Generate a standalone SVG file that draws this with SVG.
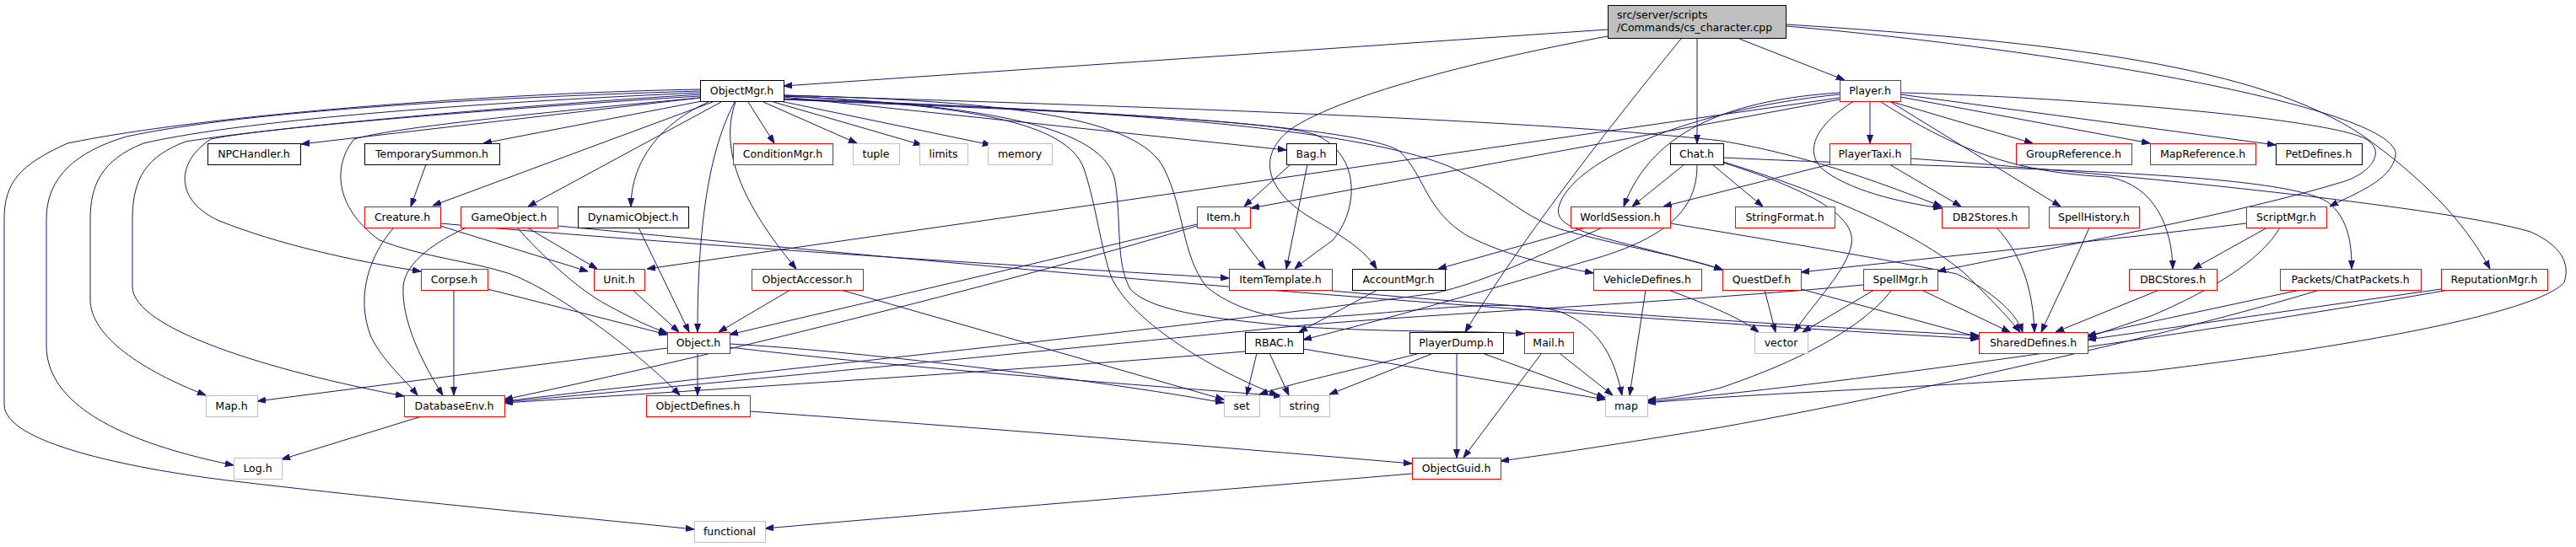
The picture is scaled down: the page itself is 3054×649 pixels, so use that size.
<svg xmlns="http://www.w3.org/2000/svg" width="3054" height="649" viewBox="0 0 3054 649">
<style>
.n rect{fill:#fff;stroke-width:1}
.k rect{stroke:#000}
.r rect{stroke:#ff0000}
.g rect{stroke:#bfbfbf}
.n text{font-family:"DejaVu Sans",sans-serif;font-size:12.5px;text-anchor:middle;fill:#000}
#edges path{fill:none;stroke:#191970;stroke-width:1;marker-end:url(#a)}
</style>
<defs>
<marker id="a" markerWidth="10" markerHeight="8" refX="10" refY="4" orient="auto" markerUnits="userSpaceOnUse"><path d="M0,0.5 L10,4 L0,7.5 z" fill="#191970" stroke="#191970"/></marker>
</defs>
<rect width="3054" height="649" fill="#fff"/>
<g id="edges">
<path d="M1906,35 L929,102"/>
<path d="M1906,43 C1760,70 1600,110 1535,150 C1490,180 1495,225 1560,262 C1600,285 1620,300 1632,319"/>
<path d="M1993,46 C1900,160 1800,290 1737,394"/>
<path d="M2012,46 L2012,170"/>
<path d="M2062,46 L2187,95"/>
<path d="M2118,31 C2450,60 2850,130 2840,185 C2835,215 2790,230 2762,245"/>
<path d="M2118,29 C2450,50 2680,80 2800,160 C2870,210 2920,260 2952,319"/>
<path d="M830,116 L357,171"/>
<path d="M832,120 L573,170"/>
<path d="M845,121 L513,244"/>
<path d="M855,121 L626,245"/>
<path d="M840,121 C785,145 748,190 748,245"/>
<path d="M871,121 C845,170 827,250 827,394"/>
<path d="M872,121 C855,170 870,230 944,319"/>
<path d="M887,121 L918,170"/>
<path d="M905,121 L1016,170"/>
<path d="M917,121 L1093,172"/>
<path d="M925,120 L1175,172"/>
<path d="M929,115 L1525,178"/>
<path d="M830,106 C600,110 250,135 80,170 C25,195 5,215 5,260 L5,480 C5,525 150,555 270,570 C480,595 700,615 823,628"/>
<path d="M830,108 C600,115 300,130 150,162 C90,180 55,210 55,260 L55,410 C55,470 120,520 277,552"/>
<path d="M830,110 C600,120 300,140 170,170 C120,190 107,220 107,260 L107,355 C107,400 170,440 244,469"/>
<path d="M830,112 C620,125 330,150 220,168 C175,185 157,210 157,260 L157,340 C157,390 320,440 479,470"/>
<path d="M830,114 C650,125 320,150 250,165 C205,195 210,240 260,262 C330,290 420,310 499,322"/>
<path d="M830,116 C680,130 470,150 420,165 C395,195 395,245 450,285 C500,305 560,310 605,325 C670,350 770,430 806,469"/>
<path d="M929,113 C1300,125 1800,140 2040,167 C2150,185 2250,225 2302,245"/>
<path d="M929,118 C1200,130 1500,140 1560,160 C1615,185 1610,250 1580,285 C1560,300 1545,310 1535,319"/>
<path d="M929,117 C1300,130 1600,150 1717,197 C1780,225 1800,255 1850,272 C1920,292 2000,305 2042,320"/>
<path d="M929,118 C1300,130 1620,150 1660,180 C1690,210 1690,250 1740,280 C1790,305 1840,315 1889,324"/>
<path d="M929,114 C1150,125 1265,145 1285,200 C1300,245 1305,295 1318,330 C1345,385 1440,440 1515,469"/>
<path d="M929,114 C1170,125 1310,150 1322,215 C1330,265 1322,310 1340,343 C1365,370 1440,378 1530,387 C1650,395 1750,392 1807,396"/>
<path d="M929,113 C1200,120 1350,140 1380,200 C1405,250 1400,300 1430,340 C1460,365 1500,375 1530,378 C1650,375 1780,350 1850,370 C1900,390 1915,430 1923,469"/>
<path d="M505,195 L487,245"/>
<path d="M522,268 L697,322"/>
<path d="M467,270 C440,300 420,350 440,400 C455,430 480,450 495,469"/>
<path d="M522,265 C800,290 1200,315 1457,330"/>
<path d="M625,270 L708,319"/>
<path d="M613,270 C640,300 680,340 720,362 C750,378 770,388 791,395"/>
<path d="M553,270 C520,285 480,310 478,340 C476,380 500,430 525,469"/>
<path d="M661,268 C1000,300 1600,360 2346,402"/>
<path d="M757,270 L817,394"/>
<path d="M578,343 L791,397"/>
<path d="M538,344 L538,469"/>
<path d="M750,344 L805,394"/>
<path d="M937,344 L852,394"/>
<path d="M997,344 L1451,474"/>
<path d="M865,408 C1000,415 1300,450 1451,478"/>
<path d="M865,412 C1100,440 1400,460 1520,470"/>
<path d="M827,419 L827,469"/>
<path d="M791,413 L305,476"/>
<path d="M1462,270 L1500,319"/>
<path d="M1419,266 C1200,320 1000,365 865,397"/>
<path d="M1419,268 C1250,320 900,410 598,474"/>
<path d="M1530,195 L1475,245"/>
<path d="M1550,195 L1525,319"/>
<path d="M1633,344 L1540,394"/>
<path d="M1880,270 L1705,319"/>
<path d="M1900,270 C1820,305 1760,335 1700,348 C1400,390 900,440 598,476"/>
<path d="M1980,265 C2100,285 2250,310 2320,325 C2360,345 2390,370 2398,394"/>
<path d="M1476,417 C1200,440 800,465 598,478"/>
<path d="M2209,338 C2000,358 1700,372 1545,386 C1300,410 900,450 598,477"/>
<path d="M1490,419 L1478,469"/>
<path d="M1505,419 L1528,469"/>
<path d="M1545,414 L1903,474"/>
<path d="M1680,420 C1600,440 1530,455 1493,468"/>
<path d="M1697,420 L1576,468"/>
<path d="M1760,420 L1903,472"/>
<path d="M1727,420 L1727,543"/>
<path d="M1827,420 L1735,543"/>
<path d="M1850,420 L1912,469"/>
<path d="M1951,344 L1932,469"/>
<path d="M1978,344 C2020,360 2060,375 2085,394"/>
<path d="M2092,344 L2105,394"/>
<path d="M2135,343 L2346,400"/>
<path d="M2222,344 L2137,394"/>
<path d="M2278,344 L2383,394"/>
<path d="M2243,344 C2200,400 2100,440 2040,460 C2000,470 1970,473 1953,475"/>
<path d="M2477,270 C2460,310 2440,350 2420,394"/>
<path d="M2367,270 C2395,300 2410,340 2412,394"/>
<path d="M2560,344 L2437,394"/>
<path d="M2727,344 L2475,398"/>
<path d="M2750,344 C2600,390 2300,460 2040,507 C1900,530 1830,540 1779,547"/>
<path d="M2894,343 L2475,403"/>
<path d="M2903,344 C2700,380 2300,440 2040,468 C2000,472 1980,474 1953,477"/>
<path d="M2703,270 C2680,310 2620,345 2550,375 C2520,385 2500,392 2475,400"/>
<path d="M2688,270 L2600,319"/>
<path d="M2663,265 C2500,285 2250,310 2135,323"/>
<path d="M2253,110 C2450,115 2760,140 2805,165 C2830,180 2810,205 2780,215 C2650,255 2450,290 2297,322"/>
<path d="M2230,121 C2330,185 2400,205 2500,210 C2555,220 2575,270 2576,319"/>
<path d="M2181,116 L767,319"/>
<path d="M2181,118 L1483,247"/>
<path d="M2181,110 C2060,118 1960,150 1925,245"/>
<path d="M2181,112 C2000,130 1870,190 1850,240 C1840,262 1860,270 1900,282 C1960,298 2010,310 2042,320"/>
<path d="M2198,120 C2150,150 2140,180 2160,200 C2190,225 2250,240 2302,247"/>
<path d="M2240,120 L2443,245"/>
<path d="M2217,120 L2217,170"/>
<path d="M2240,120 L2410,170"/>
<path d="M2253,115 L2549,170"/>
<path d="M2253,112 L2698,172"/>
<path d="M1997,195 L1935,245"/>
<path d="M2169,195 L1972,245"/>
<path d="M2012,195 C2012,240 1990,280 1880,310 C1760,345 1640,380 1545,403"/>
<path d="M2043,193 C2160,230 2200,260 2195,290 C2190,320 2150,360 2127,394"/>
<path d="M2030,195 L2090,245"/>
<path d="M2043,192 C2200,240 2290,290 2330,325 C2350,345 2380,375 2395,394"/>
<path d="M2043,187 C2300,200 2700,200 2760,240 C2785,260 2788,290 2788,319"/>
<path d="M2240,195 L2325,245"/>
<path d="M2265,188 C2500,205 2900,245 3000,275 C3045,295 3045,320 3040,335 C3010,370 2800,410 2550,440 C2300,460 2100,465 1953,478"/>
<path d="M1579,345 C1800,365 2100,385 2346,398"/>
<path d="M889,488 C1200,510 1500,535 1674,550"/>
<path d="M1674,562 C1400,585 1100,610 907,627"/>
<path d="M500,494 L334,545"/>
</g>
<g id="root" class="n"><rect x="1906.5" y="6.5" width="211" height="39" style="fill:#bfbfbf;stroke:#000"/><text x="1917" y="22" style="text-anchor:start">src/server/scripts</text><text x="1917" y="37" style="text-anchor:start">/Commands/cs_character.cpp</text></g>
<g id="ObjectMgr" class="n k"><rect x="830.5" y="95.5" width="99" height="25"/><text x="879.5" y="112">ObjectMgr.h</text></g>
<g id="Player" class="n r"><rect x="2181.5" y="95.5" width="72" height="25"/><text x="2217" y="112">Player.h</text></g>
<g id="NPCHandler" class="n k"><rect x="246.5" y="170.5" width="110" height="25"/><text x="301" y="187">NPCHandler.h</text></g>
<g id="TemporarySummon" class="n k"><rect x="432.5" y="170.5" width="160" height="25"/><text x="512" y="187">TemporarySummon.h</text></g>
<g id="ConditionMgr" class="n r"><rect x="869.5" y="170.5" width="118" height="25"/><text x="928" y="187">ConditionMgr.h</text></g>
<g id="tuple" class="n g"><rect x="1011.5" y="170.5" width="55" height="25"/><text x="1038.5" y="187">tuple</text></g>
<g id="limits" class="n g"><rect x="1090.5" y="170.5" width="57" height="25"/><text x="1118.5" y="187">limits</text></g>
<g id="memory" class="n g"><rect x="1171.5" y="170.5" width="76" height="25"/><text x="1209" y="187">memory</text></g>
<g id="Bag" class="n k"><rect x="1525.5" y="170.5" width="59" height="25"/><text x="1554.5" y="187">Bag.h</text></g>
<g id="Chat" class="n k"><rect x="1980.5" y="170.5" width="63" height="25"/><text x="2011.5" y="187">Chat.h</text></g>
<g id="PlayerTaxi" class="n r"><rect x="2169.5" y="170.5" width="96" height="25"/><text x="2217" y="187">PlayerTaxi.h</text></g>
<g id="GroupReference" class="n r"><rect x="2390.5" y="170.5" width="137" height="25"/><text x="2458.5" y="187">GroupReference.h</text></g>
<g id="MapReference" class="n r"><rect x="2549.5" y="170.5" width="125" height="25"/><text x="2611.5" y="187">MapReference.h</text></g>
<g id="PetDefines" class="n k"><rect x="2698.5" y="170.5" width="102" height="25"/><text x="2749" y="187">PetDefines.h</text></g>
<g id="Creature" class="n r"><rect x="432.5" y="245.5" width="90" height="25"/><text x="477" y="262">Creature.h</text></g>
<g id="GameObject" class="n r"><rect x="546.5" y="245.5" width="115" height="25"/><text x="603.5" y="262">GameObject.h</text></g>
<g id="DynamicObject" class="n k"><rect x="685.5" y="245.5" width="131" height="25"/><text x="750.5" y="262">DynamicObject.h</text></g>
<g id="Item" class="n r"><rect x="1419.5" y="245.5" width="63" height="25"/><text x="1450.5" y="262">Item.h</text></g>
<g id="WorldSession" class="n r"><rect x="1862.5" y="245.5" width="118" height="25"/><text x="1921" y="262">WorldSession.h</text></g>
<g id="StringFormat" class="n r"><rect x="2057.5" y="245.5" width="118" height="25"/><text x="2116" y="262">StringFormat.h</text></g>
<g id="DB2Stores" class="n r"><rect x="2302.5" y="245.5" width="103" height="25"/><text x="2353.5" y="262">DB2Stores.h</text></g>
<g id="SpellHistory" class="n r"><rect x="2429.5" y="245.5" width="107" height="25"/><text x="2482.5" y="262">SpellHistory.h</text></g>
<g id="ScriptMgr" class="n r"><rect x="2663.5" y="245.5" width="95" height="25"/><text x="2710.5" y="262">ScriptMgr.h</text></g>
<g id="Corpse" class="n r"><rect x="499.5" y="319.5" width="79" height="25"/><text x="538.5" y="336">Corpse.h</text></g>
<g id="Unit" class="n r"><rect x="704.5" y="319.5" width="60" height="25"/><text x="734" y="336">Unit.h</text></g>
<g id="ObjectAccessor" class="n r"><rect x="891.5" y="319.5" width="132" height="25"/><text x="957" y="336">ObjectAccessor.h</text></g>
<g id="ItemTemplate" class="n r"><rect x="1457.5" y="319.5" width="122" height="25"/><text x="1518" y="336">ItemTemplate.h</text></g>
<g id="AccountMgr" class="n k"><rect x="1603.5" y="319.5" width="110" height="25"/><text x="1658" y="336">AccountMgr.h</text></g>
<g id="VehicleDefines" class="n r"><rect x="1889.5" y="319.5" width="128" height="25"/><text x="1953" y="336">VehicleDefines.h</text></g>
<g id="QuestDef" class="n r"><rect x="2042.5" y="319.5" width="93" height="25"/><text x="2088.5" y="336">QuestDef.h</text></g>
<g id="SpellMgr" class="n r"><rect x="2209.5" y="319.5" width="88" height="25"/><text x="2253" y="336">SpellMgr.h</text></g>
<g id="DBCStores" class="n r"><rect x="2524.5" y="319.5" width="104" height="25"/><text x="2576" y="336">DBCStores.h</text></g>
<g id="ChatPackets" class="n r"><rect x="2703.5" y="319.5" width="167" height="25"/><text x="2786.5" y="336">Packets/ChatPackets.h</text></g>
<g id="ReputationMgr" class="n r"><rect x="2894.5" y="319.5" width="126" height="25"/><text x="2957" y="336">ReputationMgr.h</text></g>
<g id="Object" class="n r"><rect x="791.5" y="394.5" width="74" height="25"/><text x="828" y="411">Object.h</text></g>
<g id="RBAC" class="n k"><rect x="1476.5" y="394.5" width="69" height="25"/><text x="1510.5" y="411">RBAC.h</text></g>
<g id="PlayerDump" class="n k"><rect x="1671.5" y="394.5" width="111" height="25"/><text x="1726.5" y="411">PlayerDump.h</text></g>
<g id="Mail" class="n r"><rect x="1807.5" y="394.5" width="58" height="25"/><text x="1836" y="411">Mail.h</text></g>
<g id="vector" class="n g"><rect x="2080.5" y="394.5" width="63" height="25"/><text x="2111.5" y="411">vector</text></g>
<g id="SharedDefines" class="n r"><rect x="2346.5" y="394.5" width="129" height="25"/><text x="2410.5" y="411">SharedDefines.h</text></g>
<g id="Map" class="n g"><rect x="244.5" y="469.5" width="61" height="25"/><text x="274.5" y="486">Map.h</text></g>
<g id="DatabaseEnv" class="n r"><rect x="479.5" y="469.5" width="119" height="25"/><text x="538.5" y="486">DatabaseEnv.h</text></g>
<g id="ObjectDefines" class="n r"><rect x="766.5" y="469.5" width="123" height="25"/><text x="827.5" y="486">ObjectDefines.h</text></g>
<g id="set" class="n g"><rect x="1451.5" y="469.5" width="42" height="25"/><text x="1472" y="486">set</text></g>
<g id="string" class="n g"><rect x="1517.5" y="469.5" width="59" height="25"/><text x="1546.5" y="486">string</text></g>
<g id="map" class="n g"><rect x="1903.5" y="469.5" width="50" height="25"/><text x="1928" y="486">map</text></g>
<g id="Log" class="n g"><rect x="277.5" y="543.5" width="57" height="25"/><text x="305.5" y="560">Log.h</text></g>
<g id="ObjectGuid" class="n r"><rect x="1674.5" y="543.5" width="105" height="25"/><text x="1726.5" y="560">ObjectGuid.h</text></g>
<g id="functional" class="n g"><rect x="823.5" y="618.5" width="84" height="25"/><text x="865" y="635">functional</text></g>
</svg>
